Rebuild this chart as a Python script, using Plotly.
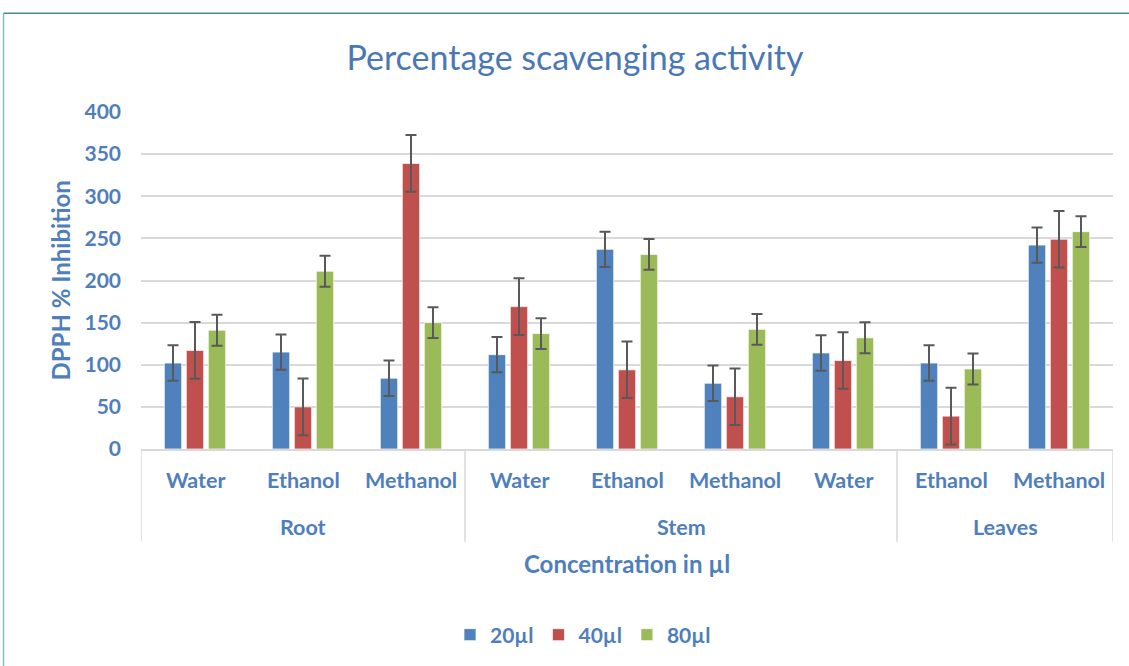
import plotly.graph_objects as go

# ---- data ----
groups = ["Root", "Stem", "Leaves"]
group_sizes = [3, 4, 2]
solvents = ["Water", "Ethanol", "Methanol", "Water", "Ethanol", "Methanol", "Water", "Ethanol", "Methanol"]
series_names = ["20µl", "40µl", "80µl"]
v20 = [102, 115, 84, 112, 237, 78, 114, 102, 242]
v40 = [117, 50, 339, 169, 94, 62, 105, 39, 249]
v80 = [141, 211, 150, 137, 231, 142, 132, 95, 258]
e20 = [21, 21, 21, 21, 21, 21, 21, 21, 21]
e40 = [33.6, 33.6, 33.6, 33.6, 33.6, 33.6, 33.6, 33.6, 33.6]
e80 = [18.3, 18.3, 18.3, 18.3, 18.3, 18.3, 18.3, 18.3, 18.3]
y_ticks = [0, 50, 100, 150, 200, 250, 300, 350, 400]

colors = ["#4f81bd", "#c0504d", "#9bbb59"]
txt = "#4f7ebd"
FONT = "Lato"

xpos = list(range(len(solvents)))
fig = go.Figure()
for name, vals, errs, c in zip(series_names, [v20, v40, v80], [e20, e40, e80], colors):
    fig.add_trace(go.Bar(
        x=xpos, y=vals, name=name,
        marker=dict(color=c, line=dict(color="rgba(255,255,255,0.7)", width=1)),
        error_y=dict(type="data", array=errs, visible=True, color="#595959", thickness=2, width=5.5),
    ))

W, H = 1129, 666
L, R, T, B = 141, 1113, 112, 450
pw, ph = R - L, B - T

def px(x):
    return (x - L) / pw

def py(y):
    return (B - y) / ph

annotations = []
for i, s in enumerate(solvents):
    annotations.append(dict(x=i, y=py(481), xref="x", yref="paper", text=f"<b>{s}</b>",
                            showarrow=False, xanchor="center", yanchor="middle",
                            font=dict(family=FONT, size=21.5, color=txt)))
shapes = []
start = 0
bounds = [-0.5]
for g, n in zip(groups, group_sizes):
    center = start + (n - 1) / 2
    annotations.append(dict(x=center, y=py(528), xref="x", yref="paper", text=f"<b>{g}</b>",
                            showarrow=False, xanchor="center", yanchor="middle",
                            font=dict(family=FONT, size=21.5, color=txt)))
    start += n
    bounds.append(start - 0.5)
for b in bounds:
    shapes.append(dict(type="line", xref="x", yref="paper", x0=b, x1=b, y0=0, y1=py(543),
                       line=dict(color="#d9d9d9", width=1.5)))
annotations.append(dict(x=px(60), y=py(281), xref="paper", yref="paper", text="<b>DPPH % Inhibition</b>",
                        textangle=-90, showarrow=False, xanchor="center", yanchor="middle",
                        font=dict(family=FONT, size=24, color=txt)))
annotations.append(dict(x=px(627), y=py(565), xref="paper", yref="paper", text="<b>Concentration in µl</b>",
                        showarrow=False, xanchor="center", yanchor="middle",
                        font=dict(family=FONT, size=24, color=txt)))
shapes.append(dict(type="line", xref="paper", yref="paper", x0=px(3.5), x1=px(1135), y0=py(13), y1=py(13),
                   line=dict(color="#4a8a8f", width=1.5)))
shapes.append(dict(type="line", xref="paper", yref="paper", x0=px(3.5), x1=px(3.5), y0=py(13), y1=py(670),
                   line=dict(color="#7fbfc4", width=1.5)))

fig.update_layout(
    width=W, height=H,
    margin=dict(l=L, r=W - R, t=T, b=H - B),
    paper_bgcolor="white", plot_bgcolor="white",
    barmode="group", bargap=0.389, bargroupgap=0.21,
    title=dict(text="Percentage scavenging activity", xref="container", x=575 / W, xanchor="center",
               yref="container", y=1 - 58 / H, yanchor="middle",
               font=dict(family=FONT, size=34, color="#4a78b4")),
    xaxis=dict(range=[-0.5, 8.5], showticklabels=False, showgrid=False, zeroline=False,
               showline=True, linecolor="#d9d9d9", linewidth=2, ticks=""),
    yaxis=dict(range=[0, 400], tickvals=y_ticks, showgrid=True, gridcolor="#d9d9d9", gridwidth=1.5,
               zeroline=False, showline=False, ticks="", ticklabelstandoff=19,
               tickfont=dict(family=FONT, size=21, color=txt, weight="bold")),
    legend=dict(orientation="h", x=px(583), xanchor="center", y=py(635), yanchor="middle",
                font=dict(family=FONT, size=21, color=txt, weight="bold"),
                itemwidth=30, traceorder="normal"),
    annotations=annotations, shapes=shapes,
)

fig.write_html("out.html", config={"displayModeBar": False},
               post_script="document.body.style.margin='0';document.body.style.overflow='hidden';")
